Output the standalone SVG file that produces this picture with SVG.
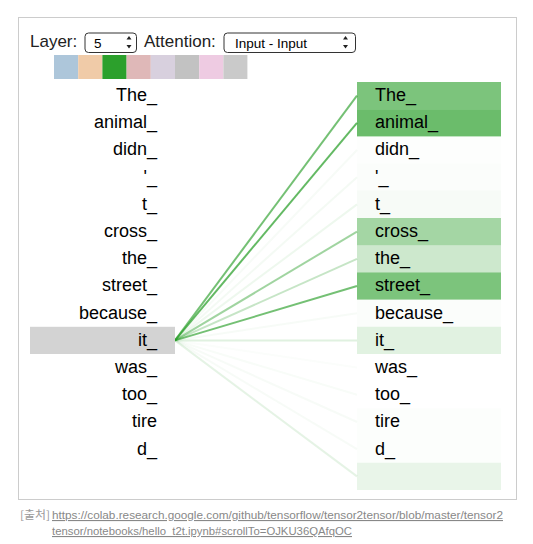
<svg xmlns="http://www.w3.org/2000/svg" width="533" height="544" viewBox="0 0 533 544">
<style>
text{font-family:"Liberation Sans",Arial,sans-serif;fill:#000}
.tok{font-size:18px}
.l{text-anchor:end}
.hdr{font-size:17px;fill:#222}
.sel{fill:#fff;stroke:#333;stroke-width:1}
.opt{font-size:13.5px}
.box{fill:#2ca02c}
.cn{stroke:#2ca02c;stroke-width:2;fill:none}
.foot{font-size:11px;fill:#999}
.link{font-size:11px;fill:#888;text-decoration:underline}
</style>
<rect x="0" y="0" width="533" height="544" fill="#fff"/>
<rect x="18.5" y="17.5" width="498" height="482" fill="#fff" stroke="#cccccc" stroke-width="1"/>

<g id="header">
  <text class="hdr" x="30" y="47">Layer:</text>
  <rect class="sel" x="85" y="33" width="51.5" height="19.5" rx="3.5"/>
  <text class="opt" x="94" y="47.5">5</text>
  <path d="M126.5 39.5 L129 36 L131.5 39.5 Z M126.5 45 L129 48.5 L131.5 45 Z" fill="#222"/>
  <text class="hdr" x="144" y="47">Attention:</text>
  <rect class="sel" x="224" y="33" width="131.5" height="19.5" rx="3.5"/>
  <text class="opt" x="235" y="47.5">Input - Input</text>
  <path d="M343 39.5 L345.5 36 L348 39.5 Z M343 45 L345.5 48.5 L348 45 Z" fill="#222"/>
</g>

<g id="heads">
  <rect x="54" y="55" width="24.2" height="24" fill="#adc6da"/>
  <rect x="78.2" y="55" width="24.2" height="24" fill="#f0cba8"/>
  <rect x="102.4" y="55" width="24.2" height="24" fill="#2ca02c"/>
  <rect x="126.6" y="55" width="24.2" height="24" fill="#dfb8b8"/>
  <rect x="150.8" y="55" width="24.2" height="24" fill="#d8d0de"/>
  <rect x="175" y="55" width="24.2" height="24" fill="#c2c2c2"/>
  <rect x="199.2" y="55" width="24.2" height="24" fill="#eecbe2"/>
  <rect x="223.4" y="55" width="24" height="24" fill="#cacaca"/>
</g>

<g id="connectors">
  <line class="cn" x1="175" y1="340.4" x2="357" y2="95.6" stroke-opacity="0.66"/>
  <line class="cn" x1="175" y1="340.4" x2="357" y2="122.8" stroke-opacity="0.74"/>
  <line class="cn" x1="175" y1="340.4" x2="357" y2="150" stroke-opacity="0.04"/>
  <line class="cn" x1="175" y1="340.4" x2="357" y2="177.2" stroke-opacity="0.05"/>
  <line class="cn" x1="175" y1="340.4" x2="357" y2="204.4" stroke-opacity="0.08"/>
  <line class="cn" x1="175" y1="340.4" x2="357" y2="231.6" stroke-opacity="0.45"/>
  <line class="cn" x1="175" y1="340.4" x2="357" y2="258.8" stroke-opacity="0.27"/>
  <line class="cn" x1="175" y1="340.4" x2="357" y2="286" stroke-opacity="0.66"/>
  <line class="cn" x1="175" y1="340.4" x2="357" y2="313.2" stroke-opacity="0.04"/>
  <line class="cn" x1="175" y1="340.4" x2="357" y2="340.4" stroke-opacity="0.15"/>
  <line class="cn" x1="175" y1="340.4" x2="357" y2="367.6" stroke-opacity="0.02"/>
  <line class="cn" x1="175" y1="340.4" x2="357" y2="394.8" stroke-opacity="0.03"/>
  <line class="cn" x1="175" y1="340.4" x2="357" y2="422" stroke-opacity="0.04"/>
  <line class="cn" x1="175" y1="340.4" x2="357" y2="449.2" stroke-opacity="0.04"/>
  <line class="cn" x1="175" y1="340.4" x2="357" y2="476.4" stroke-opacity="0.12"/>
</g>

<g id="left-tokens">
  <rect x="30" y="326.8" width="145" height="27.2" fill="#d3d3d3"/>
  <text class="tok l" x="157" y="101">The_</text>
  <text class="tok l" x="157" y="128.2">animal_</text>
  <text class="tok l" x="157" y="155.4">didn_</text>
  <text class="tok l" x="157" y="182.6">'_</text>
  <text class="tok l" x="157" y="209.8">t_</text>
  <text class="tok l" x="157" y="237">cross_</text>
  <text class="tok l" x="157" y="264.2">the_</text>
  <text class="tok l" x="157" y="291.4">street_</text>
  <text class="tok l" x="157" y="318.6">because_</text>
  <text class="tok l" x="157" y="345.8">it_</text>
  <text class="tok l" x="157" y="373">was_</text>
  <text class="tok l" x="157" y="400.2">too_</text>
  <text class="tok l" x="157" y="427.4">tire</text>
  <text class="tok l" x="157" y="454.6">d_</text>
</g>

<g id="right-tokens">
  <rect class="box" x="357" y="82" width="144" height="27.2" fill-opacity="0.62"/>
  <rect class="box" x="357" y="109.2" width="144" height="27.2" fill-opacity="0.70"/>
  <rect class="box" x="357" y="136.4" width="144" height="27.2" fill-opacity="0.01"/>
  <rect class="box" x="357" y="163.6" width="144" height="27.2" fill-opacity="0.02"/>
  <rect class="box" x="357" y="190.8" width="144" height="27.2" fill-opacity="0.04"/>
  <rect class="box" x="357" y="218" width="144" height="27.2" fill-opacity="0.43"/>
  <rect class="box" x="357" y="245.2" width="144" height="27.2" fill-opacity="0.24"/>
  <rect class="box" x="357" y="272.4" width="144" height="27.2" fill-opacity="0.62"/>
  <rect class="box" x="357" y="299.6" width="144" height="27.2" fill-opacity="0.02"/>
  <rect class="box" x="357" y="326.8" width="144" height="27.2" fill-opacity="0.14"/>
  <rect class="box" x="357" y="408.4" width="144" height="27.2" fill-opacity="0.015"/>
  <rect class="box" x="357" y="435.6" width="144" height="27.2" fill-opacity="0.015"/>
  <rect class="box" x="357" y="462.8" width="144" height="27.2" fill-opacity="0.10"/>
  <text class="tok" x="375" y="101">The_</text>
  <text class="tok" x="375" y="128.2">animal_</text>
  <text class="tok" x="375" y="155.4">didn_</text>
  <text class="tok" x="375" y="182.6">'_</text>
  <text class="tok" x="375" y="209.8">t_</text>
  <text class="tok" x="375" y="237">cross_</text>
  <text class="tok" x="375" y="264.2">the_</text>
  <text class="tok" x="375" y="291.4">street_</text>
  <text class="tok" x="375" y="318.6">because_</text>
  <text class="tok" x="375" y="345.8">it_</text>
  <text class="tok" x="375" y="373">was_</text>
  <text class="tok" x="375" y="400.2">too_</text>
  <text class="tok" x="375" y="427.4">tire</text>
  <text class="tok" x="375" y="454.6">d_</text>
</g>

<g id="source">
  <text class="foot" x="20" y="519" style="font-family:'Noto Sans CJK KR','Liberation Sans',sans-serif" textLength="30" lengthAdjust="spacingAndGlyphs">[출처]</text>
  <text class="link" x="52" y="519" textLength="451" lengthAdjust="spacingAndGlyphs">https://colab.research.google.com/github/tensorflow/tensor2tensor/blob/master/tensor2</text>
  <text class="link" x="52" y="535" textLength="300" lengthAdjust="spacingAndGlyphs">tensor/notebooks/hello_t2t.ipynb#scrollTo=OJKU36QAfqOC</text>
</g>
</svg>
